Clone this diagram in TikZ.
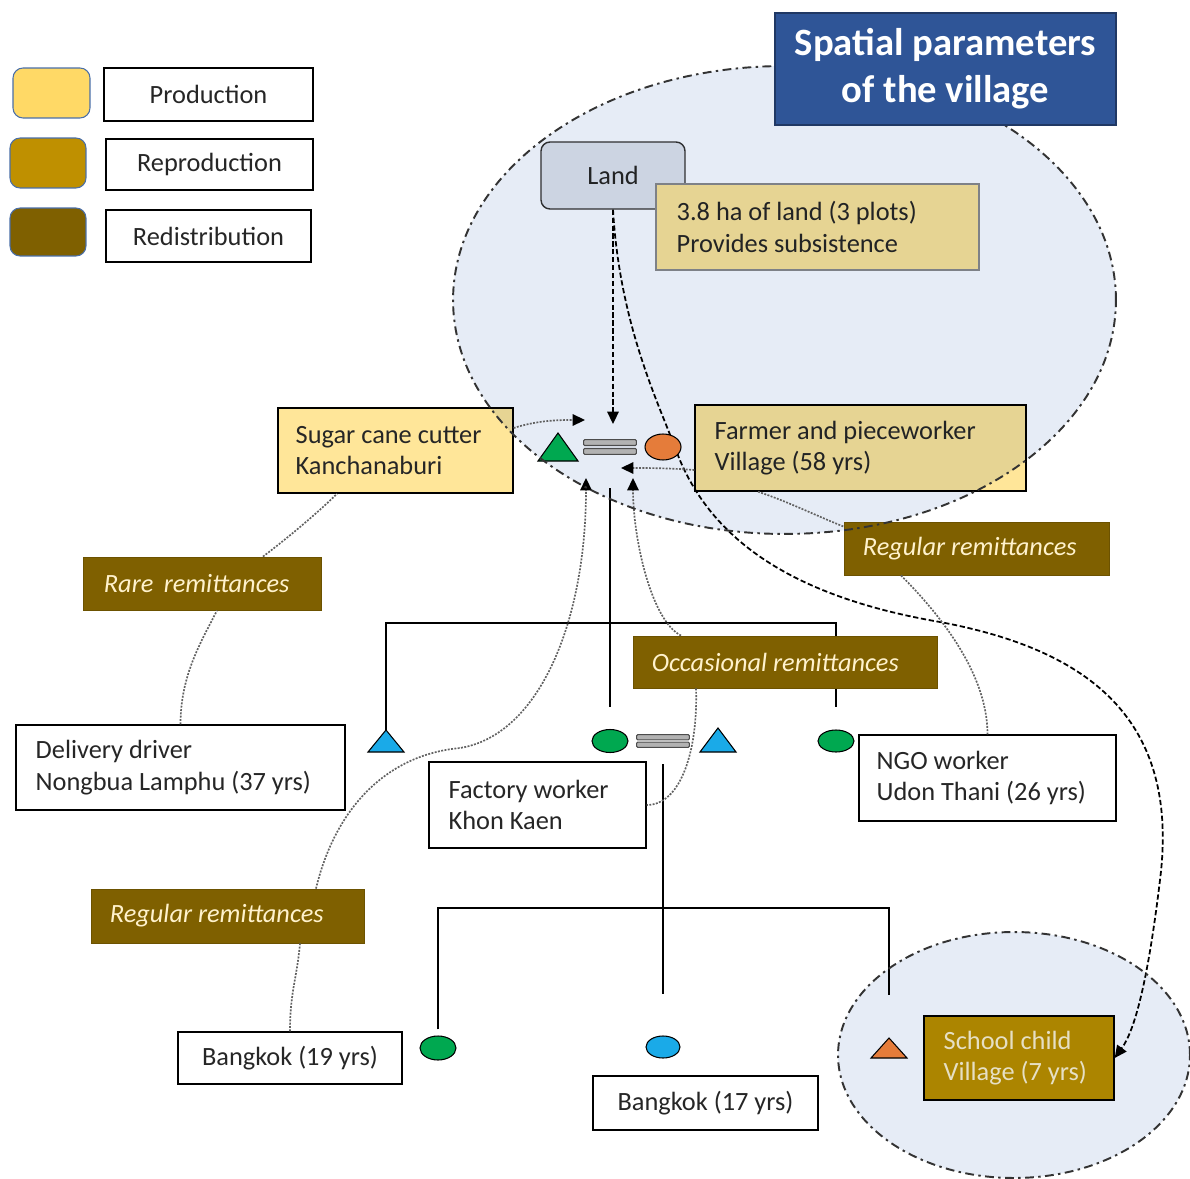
\documentclass[tikz,border=0pt]{standalone}
\usepackage{fontspec}
\setmainfont{Carlito}
\usetikzlibrary{arrows.meta,shapes.geometric,calc}

\definecolor{prodY}{HTML}{FFD966}
\definecolor{boxY}{HTML}{FFE699}
\definecolor{reproC}{HTML}{BF9000}
\definecolor{redisC}{HTML}{7F6000}
\definecolor{titleB}{HTML}{2F5597}
\definecolor{titleD}{HTML}{203864}
\definecolor{landG}{HTML}{E3E6EB}
\definecolor{ellB}{HTML}{E6ECF6}
\definecolor{cream}{HTML}{FFF2CC}
\definecolor{cgreen}{HTML}{00A850}
\definecolor{cblue}{HTML}{1AAAE8}
\definecolor{corange}{HTML}{E57C3A}
\definecolor{txt}{HTML}{262626}
\definecolor{swb}{HTML}{4A6FA8}

\tikzset{
  pics/tri/.style args={#1/#2/#3}{code={
    \filldraw[fill=#1, draw=black, line width=0.6pt, line join=miter] (-#2,#3) -- (#2,#3) -- (0,-#3) -- cycle;
    \coordinate (-top) at (0,-#3);
  }},
}

\begin{document}
\begin{tikzpicture}[x=0.02cm, y=-0.02cm,
  every node/.style={font=\fontsize{15}{18}\selectfont, text=txt},
  box/.style={draw=black, line width=0.8pt, fill=white, inner sep=0pt},
  lbox/.style={box},
  cbox/.style={box, align=center},
  ltext/.style={anchor=west, align=left, inner sep=0pt},
  rtext/.style={ltext, text=cream, font=\itshape\fontsize{15}{18}\selectfont},
  swatch/.style={draw=swb, line width=0.6pt, rounded corners=0.2cm},
  rlab/.style={fill=redisC, draw=redisC!85!black, line width=0.5pt, inner sep=0pt},
  sym/.style={ellipse, draw=black, line width=0.6pt, inner sep=0pt},
  eqn/.style={inner sep=0pt, minimum width=1.04cm},
  bar/.style={fill=black!30, draw=black!70, line width=0.6pt, rounded corners=0.6pt},
  kin/.style={draw=black, line width=0.9pt},
  remit/.style={draw=black!62, line width=0.95pt, dash pattern=on 1.1pt off 0.8pt},
  landln/.style={draw=black, line width=1pt, dash pattern=on 3pt off 1.5pt},
  arrowed/.style={-{Triangle[length=7pt,width=6.5pt,color=black]}},
  ellline/.style={draw=black!80, line width=1.1pt, dash pattern=on 5pt off 2.5pt on 1.4pt off 2.5pt},
]
\fill[white] (0,0) rectangle (1190,1179);
\useasboundingbox (0,0) rectangle (1190,1179);
\clip (0,0) rectangle (1190,1179);

% ---------- legend ----------
\node[swatch, fill=prodY, minimum width=1.54cm, minimum height=1.00cm] (sw1) at (51.5,93) {};
\node[swatch, fill=reproC, minimum width=1.52cm, minimum height=1.00cm] (sw2) at (48,163) {};
\node[swatch, fill=redisC, minimum width=1.52cm, minimum height=0.96cm] (sw3) at (48,232) {};
\node[cbox, minimum width=4.18cm, minimum height=1.06cm] (prod) at (208.5,94.5) {Production};
\node[cbox, minimum width=4.14cm, minimum height=1.02cm] (repro) at (209.5,164.5) {Reproduction};
\node[cbox, minimum width=4.10cm, minimum height=1.04cm] (redis) at (208.5,236) {Redistribution};

% ---------- boxes ----------
\node[draw=black!80, fill=landG, rounded corners=0.18cm, line width=0.8pt,
  minimum width=2.88cm, minimum height=1.34cm] (land) at (613,175.5) {Land};
\node[lbox, fill=boxY, draw=black!45, minimum width=6.46cm, minimum height=1.72cm] (note) at (817.5,227) {};
\node[ltext] (noteT) at ([xshift=0.42cm]note.west) {3.8 ha of land (3 plots)\\Provides subsistence};
\node[lbox, fill=boxY, minimum width=4.70cm, minimum height=1.70cm] (sugar) at (395.5,450.5) {};
\node[ltext] (sugarT) at ([xshift=0.36cm]sugar.west) {Sugar cane cutter\\Kanchanaburi};
\node[lbox, fill=boxY, minimum width=6.62cm, minimum height=1.72cm] (farmer) at (860.5,448) {};
\node[ltext] (farmerT) at ([xshift=0.40cm]farmer.west) {Farmer and pieceworker\\Village (58 yrs)};
\node[lbox, minimum width=6.58cm, minimum height=1.70cm] (delivery) at (180.5,767.5) {};
\node[ltext] (deliveryT) at ([xshift=0.40cm]delivery.west) {Delivery driver\\Nongbua Lamphu (37 yrs)};
\node[lbox, minimum width=4.34cm, minimum height=1.72cm] (factory) at (537.5,805) {};
\node[ltext] (factoryT) at ([xshift=0.40cm]factory.west) {Factory worker\\Khon Kaen};
\node[lbox, minimum width=5.14cm, minimum height=1.72cm] (ngo) at (987.5,778) {};
\node[ltext] (ngoT) at ([xshift=0.36cm]ngo.west) {NGO worker\\Udon Thani (26 yrs)};
\node[cbox, minimum width=4.48cm, minimum height=1.04cm] (bk19) at (290,1058) {Bangkok (19 yrs)};
\node[cbox, minimum width=4.50cm, minimum height=1.08cm] (bk17) at (705.5,1103) {Bangkok (17 yrs)};
\node[lbox, fill=reproC, minimum width=3.80cm, minimum height=1.68cm] (school) at (1019,1058) {};
\node[ltext, text=cream] (schoolT) at ([xshift=0.40cm]school.west) {School child\\Village (7 yrs)};

% ---------- land flows ----------
\coordinate (inA) at (585,420);
\coordinate (inB) at (613,424);
\coordinate (inC) at (621,468);
\coordinate (inD) at (586,478);
\coordinate (inE) at (633,478);
\coordinate (bend) at (460,748);

\draw[landln, arrowed] (land.south) -- (inB);
\draw[landln, arrowed] (land.south) .. controls (620,330) and (662,410) .. (679,458)
  .. controls (715,545) and (800,598) .. (940,622)
  .. controls (1090,650) and (1180,720) .. (1160,880)
  .. controls (1148,980) and (1135,1030) .. (school.east);

% ---------- village areas (fill) ----------
\begin{scope}[blend mode=multiply]
  \fill[ellB] (784.5,300) ellipse [x radius=6.63cm, y radius=4.68cm];
  \fill[ellB] (1014,1055) ellipse [x radius=3.52cm, y radius=2.46cm];
\end{scope}

% ---------- kinship symbols ----------
\pic (tG) at (558,447) {tri=cgreen/20/14};
\node[eqn, minimum height=0.32cm] (eq1) at (610,447) {};
\filldraw[bar] ($(eq1.north west)+(0,1)$) rectangle ($(eq1.east)+(0,-1.5)$);
\filldraw[bar] ($(eq1.west)+(0,1.5)$) rectangle ($(eq1.south east)+(0,-1)$);
\node[sym, fill=corange, minimum width=0.72cm, minimum height=0.52cm] (c1) at (663,447) {};

\pic (tB1) at (386,741) {tri=cblue/18/11};
\node[sym, fill=cgreen, minimum width=0.72cm, minimum height=0.46cm] (c2) at (610,741) {};
\node[eqn, minimum height=0.28cm] (eq2) at (663,741) {};
\filldraw[bar] ($(eq2.north west)+(0,1)$) rectangle ($(eq2.east)+(0,-1.2)$);
\filldraw[bar] ($(eq2.west)+(0,1.2)$) rectangle ($(eq2.south east)+(0,-1)$);
\pic (tB2) at (718,740) {tri=cblue/18/12};
\node[sym, fill=cgreen, minimum width=0.72cm, minimum height=0.44cm] (c3) at (836,741) {};

\node[sym, fill=cgreen, minimum width=0.72cm, minimum height=0.48cm] (c5) at (438,1048) {};
\node[sym, fill=cblue, minimum width=0.68cm, minimum height=0.44cm] (c6) at (663,1047) {};
\pic (tO) at (889,1048) {tri=corange/18/10};

\coordinate (sib1) at (610,623);
\coordinate (sib2) at (663,908);
\draw[kin, shorten <=0.66cm, shorten >=0.43cm] (eq1.south) -- (c2.north);
\draw[kin, shorten >=0.44cm] (tB1-top) |- (sib1) -| (c3.north);
\draw[kin, shorten <=0.32cm, shorten >=0.82cm] (eq2.south) -- (c6.north);
\draw[kin, shorten <=0.12cm, shorten >=0.86cm] (c5.north) |- (sib2) -| (tO-top);

% ---------- remittance labels ----------
\node[rlab, minimum width=4.76cm, minimum height=1.06cm] (rare) at (202,583.5) {};
\node[rtext] (rareT) at ([xshift=0.42cm]rare.west) {Rare\, remittances};
\node[rlab, minimum width=5.30cm, minimum height=1.06cm] (regU) at (976.5,548.5) {};
\node[rtext] (regUT) at ([xshift=0.38cm]regU.west) {Regular remittances};
\node[rlab, minimum width=6.08cm, minimum height=1.04cm] (occ) at (785,662) {};
\node[rtext] (occT) at ([xshift=0.38cm]occ.west) {Occasional remittances};
\node[rlab, minimum width=5.46cm, minimum height=1.08cm] (regL) at (227.5,916) {};
\node[rtext] (regLT) at ([xshift=0.38cm]regL.west) {Regular remittances};

% ---------- remittance connectors ----------
\draw[remit] (delivery.north) .. controls +(0,-50) and +(-15,30) .. ([xshift=0.3cm]rare.south);
\draw[remit] ([xshift=1.22cm]rare.north) .. controls +(20,-15) and +(-20,20) .. ([xshift=-1.17cm]sugar.south);
\draw[remit, arrowed] ([yshift=0.45cm]sugar.east) .. controls +(25,-8) and +(-25,0) .. (inA);
\draw[remit, arrowed] ([yshift=-0.44cm]farmer.west) .. controls +(-25,-2) and +(25,0) .. (inC);
\draw[remit] ([xshift=-2.05cm]farmer.south) .. controls +(30,10) and +(-30,-12) .. ([yshift=-0.1cm]regU.north west);
\draw[remit] ([xshift=-1.51cm]regU.south) .. controls +(40,40) and +(0,-60) .. (ngo.north);
\draw[remit, arrowed] ([xshift=-2.08cm]occ.north) .. controls +(-30,-15) and +(0,60) .. (inE);
\draw[remit] ([xshift=-1.78cm]occ.south) .. controls +(2,60) and +(35,0) .. (factory.east);
\draw[remit] (bk19.north) .. controls +(0,-40) and +(-3,35) .. ([xshift=1.45cm]regL.south);
\draw[remit, arrowed] ([xshift=1.77cm]regL.north) .. controls +(19,-79) and +(-75,7) .. (bend)
  .. controls +(80,-13) and +(0,142) .. (inD);

% ---------- village areas (outline) ----------
\draw[ellline] (784.5,300) ellipse [x radius=6.63cm, y radius=4.68cm];
\draw[ellline] (1014,1055) ellipse [x radius=3.52cm, y radius=2.46cm];

% ---------- title ----------
\node[fill=titleB, draw=titleD, line width=1pt, minimum width=6.82cm, minimum height=2.24cm,
  align=center, text=white, font=\bfseries\fontsize{22}{26.6}\selectfont] (title) at (945.5,69)
  {Spatial parameters\\of the village};
\end{tikzpicture}
\end{document}
